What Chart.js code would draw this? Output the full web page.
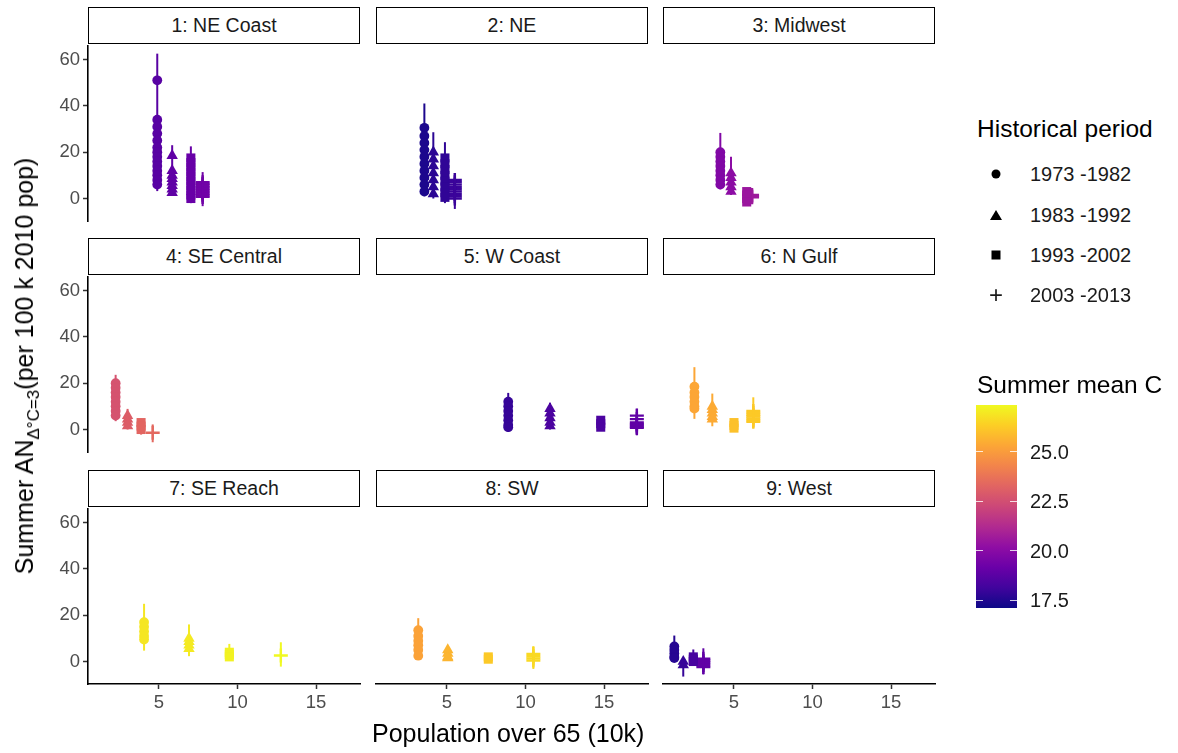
<!DOCTYPE html>
<html>
<head>
<meta charset="utf-8">
<script src="https://cdn.jsdelivr.net/npm/chart.js@4.4.1/dist/chart.umd.min.js"></script>
<style>
  body { margin: 0; background: #fff; font-family: "Liberation Sans", Arial, sans-serif; }
  #stage { position: relative; width: 1178px; height: 753px; overflow: hidden; }
  #stage canvas { position: absolute; }
  .strip { position: absolute; box-sizing: border-box; border: 1.5px solid #000; background: #fff;
           font-size: 19.5px; color: #1a1a1a; display: flex; align-items: center; justify-content: center; }
  .title { position: absolute; color: #000; white-space: nowrap; }
  .lg { position: absolute; white-space: nowrap; color: #1a1a1a; }
</style>
</head>
<body>
<div id="stage"></div>
<script>
// ---- data ----
const panelNames = ['1: NE Coast', '2: NE', '3: Midwest', '4: SE Central', '5: W Coast',
                    '6: N Gulf', '7: SE Reach', '8: SW', '9: West'];
const periods = ['1973 -1982', '1983 -1992', '1993 -2002', '2003 -2013'];
const xTicks = [5, 10, 15];
const yTicks = [0, 20, 40, 60];
const tempTicks = [17.5, 20.0, 22.5, 25.0];

// population over 65 (10k), one value per period
const popX = [
  [4.89, 5.84, 7.03, 7.78],
  [3.56, 4.13, 4.87, 5.5],
  [4.13, 4.81, 5.81, 6.15],
  [2.24, 3.0, 3.86, 4.6],
  [8.9, 11.56, 14.79, 17.09],
  [2.48, 3.62, 5.0, 6.23],
  [4.05, 6.91, 9.48, 12.76],
  [3.17, 5.05, 7.63, 10.5],
  [1.2, 1.77, 2.41, 3.05]
];

// summer mean temperature (C), one value per period
const tempC = [
  [18.7, 18.9, 19.1, 19.35],
  [17.4, 17.7, 17.8, 18.0],
  [19.8, 20.1, 20.5, 20.6],
  [22.65, 23.0, 23.3, 23.4],
  [17.9, 18.4, 18.4, 18.9],
  [25.3, 25.4, 26.0, 26.2],
  [26.9, 27.0, 27.2, 27.35],
  [25.2, 25.7, 26.2, 26.6],
  [17.6, 17.9, 18.3, 18.9]
];

// point estimates of summer AN per 100k (many cities stacked per period)
const anValues = [
  [[51, 34, 31, 28, 25, 22, 20, 18, 16, 14, 12, 10, 8, 6], [18.5, 12, 10, 8.5, 7, 5.5, 4, 2.5],
   [17.5, 15.5, 13.5, 11.5, 9.5, 7.5, 5.5, 3.5, 1.5, 0], [7, 6.3, 5.6, 4.9, 4.2, 3.5, 2.8, 2.1, 1.4, 0.7]],
  [[30.5, 27, 24, 21, 18, 15, 12, 9, 6, 3], [20, 17, 14, 11, 8, 5, 2],
   [17.5, 15, 12.5, 10, 7.5, 5, 2.5, 0.5], [8, 7, 6, 5, 4, 3, 2, 1, 0]],
  [[20, 18, 16, 14, 12, 10, 8, 6], [11, 9, 7, 5, 3], [3, 1.5, 0, -1.5], [1.5, 1, 0.5]],
  [[20, 18, 16, 14, 12, 10, 8, 6], [6, 4.5, 3, 1.5], [3, 1.5, 0], [-1.4]],
  [[12, 10, 8, 6, 4, 2, 1], [9, 7, 5, 3, 1.5], [4, 2.5, 1], [6, 4.5, 3, 2.4, 1.8, 1.2, 0.7]],
  [[18.5, 16, 14, 12, 10, 9], [10, 8.5, 7, 5.5, 4.5], [3, 1.8, 0.6], [8, 7.2, 6.4, 5.6, 4.8, 4, 3.3]],
  [[17, 15, 13, 11, 9.5], [10, 8.5, 7, 5.5], [4, 3, 2], [2.6]],
  [[13.5, 11, 9, 7, 5, 2.5], [5, 3.5, 2, 1.5], [2, 1], [3.3, 2.3, 1.3, 0.4]],
  [[6.5, 5, 3.5, 2, 1.5], [0, -1.5], [2, 1, 0], [1.2, 0.3, -0.5, -1.5, -2.4]]
];

// overall interval extent per period
const ciLow = [
  [3.2, 1.5, -2, -3.3], [1, 0, -2, -4.5], [4, 1.5, -3, -0.3], [3.6, 0, -2.2, -5.5], [-1, 0, -0.5, -2.5],
  [4.6, 1.4, -1, 0.7], [4.7, 2.3, 1, -2.2], [1, 0.5, 0, -3.2], [0, -6.5, -1, -5.6]
];
const ciHigh = [
  [62.5, 23, 22.5, 11.4], [41, 28.6, 24.3, 11], [28.3, 18, 4.5, 2.5], [23.6, 8.9, 4.6, 2.2], [15.8, 11.5, 5.5, 8.9],
  [26.9, 15.5, 4.5, 13.9], [24.9, 16, 7.6, 8.3], [18.7, 6, 3, 6.6], [11.2, 1, 5.2, 5.7]
];

// ---- colour scale (plasma) ----
const plasma = ['#0d0887', '#41049d', '#6a00a8', '#8f0da4', '#b12a90', '#cc4778',
                '#e16462', '#f2844b', '#fca636', '#fcce25', '#f0f921'];
const tempMin = 17.1, tempMax = 27.36;

function hexToRgb(h) {
  return [1, 3, 5].map(i => parseInt(h.slice(i, i + 2), 16));
}
function plasmaColor(temp) {
  let t = (temp - tempMin) / (tempMax - tempMin);
  t = Math.max(0, Math.min(1, t)) * (plasma.length - 1);
  const i = Math.min(Math.floor(t), plasma.length - 2);
  const f = t - i;
  const a = hexToRgb(plasma[i]), b = hexToRgb(plasma[i + 1]);
  const c = a.map((v, k) => Math.round(v + (b[k] - v) * f));
  return `rgb(${c[0]},${c[1]},${c[2]})`;
}

// ---- layout ----
const FONT = '"Liberation Sans", Arial, sans-serif';
const colLeft = [88, 376, 663];
const rowTop = [46, 277, 509];
const plotW = 272, plotH = 175;
const stripH = 37;
const M = 24; // spare margin round each canvas so Chart.js auto padding never eats the plot
const shapes = ['circle', 'triangle', 'rect', 'cross'];
const radii = [4.9, 6.6, 6.4, 7];

const stage = document.getElementById('stage');

function addEl(cls, css, html) {
  const d = document.createElement('div');
  d.className = cls;
  Object.assign(d.style, css);
  d.innerHTML = html;
  stage.appendChild(d);
  return d;
}

panelNames.forEach((name, p) => {
  const r = Math.floor(p / 3), c = p % 3;
  const axisW = c === 0 ? 60 : 0;
  const axisH = r === 2 ? 34 : 0;

  addEl('strip', {
    left: colLeft[c] + 'px', top: (rowTop[r] - stripH - 2) + 'px',
    width: plotW + 'px', height: stripH + 'px'
  }, name);

  const cv = document.createElement('canvas');
  cv.width = plotW + axisW + 2 * M;
  cv.height = plotH + axisH + 2 * M;
  cv.style.left = (colLeft[c] - axisW - M) + 'px';
  cv.style.top = (rowTop[r] - M) + 'px';
  stage.appendChild(cv);

  const datasets = [];
  periods.forEach((per, g) => {
    const x = popX[p][g];
    const col = plasmaColor(tempC[p][g]);
    datasets.push({
      type: 'scatter',
      label: per,
      data: anValues[p][g].map(y => ({ x, y })),
      pointStyle: shapes[g],
      pointRadius: radii[g],
      backgroundColor: col,
      borderColor: col,
      borderWidth: g === 3 ? 2.4 : 0,
      order: 1
    });
    datasets.push({
      type: 'line',
      label: per + ' interval',
      data: [{ x, y: ciLow[p][g] }, { x, y: ciHigh[p][g] }],
      borderColor: col,
      borderWidth: 2,
      pointRadius: 0,
      order: 2
    });
  });

  const axisCommon = {
    grid: { drawOnChartArea: false, drawTicks: true, tickLength: 5, tickColor: '#333', tickWidth: 1.5 },
    border: { display: true, color: '#000', width: 1.6 },
    ticks: { color: '#4d4d4d', font: { family: FONT, size: 18.5 }, padding: 3 }
  };

  new Chart(cv, {
    data: { datasets },
    options: {
      responsive: false,
      animation: false,
      devicePixelRatio: 1,
      events: [],
      layout: { padding: M, autoPadding: false },
      plugins: { legend: { display: false }, tooltip: { enabled: false } },
      scales: {
        x: {
          type: 'linear', min: 0.48, max: 17.8,
          display: r === 2,
          afterBuildTicks: s => { s.ticks = xTicks.map(v => ({ value: v })); },
          afterFit: s => { s.height = axisH; },
          ...axisCommon
        },
        y: {
          type: 'linear', min: -9.7, max: 65.8,
          display: c === 0,
          afterBuildTicks: s => { s.ticks = yTicks.map(v => ({ value: v })); },
          afterFit: s => { s.width = axisW; },
          ...axisCommon
        }
      }
    }
  });
});

// axis titles
addEl('title', { left: '372px', top: '719px', fontSize: '25px' }, 'Population over 65 (10k)');
addEl('title', {
  left: '27px', top: '366px', fontSize: '25px',
  transform: 'translate(-50%, -50%) rotate(-90deg)'
}, 'Summer AN<sub style="font-size:17px">Δ°C=3</sub>(per 100 k 2010 pop)');

// shape legend
addEl('lg', { left: '977px', top: '115px', fontSize: '24.5px', color: '#000' }, 'Historical period');
const legendY = [174, 215, 255, 295];
const symbolCss = [
  { width: '9px', height: '9px', borderRadius: '50%', background: '#000' },
  { width: 0, height: 0, borderLeft: '6px solid transparent', borderRight: '6px solid transparent', borderBottom: '10px solid #000' },
  { width: '9px', height: '9px', background: '#000' },
  null
];
periods.forEach((per, g) => {
  if (symbolCss[g]) {
    addEl('lg', Object.assign({ left: '996px', top: legendY[g] + 'px', transform: 'translate(-50%, -50%)' }, symbolCss[g]), '');
  } else {
    addEl('lg', { left: '996px', top: legendY[g] + 'px', transform: 'translate(-50%, -50%)', fontSize: '24px', fontWeight: 300, lineHeight: '24px' }, '+');
  }
  addEl('lg', { left: '1030px', top: (legendY[g] - 12) + 'px', fontSize: '20px', lineHeight: '24px' }, per);
});

// colour bar legend
addEl('lg', { left: '977px', top: '371px', fontSize: '24.5px', color: '#000' }, 'Summer mean C');
const barTop = 405, barBottom = 608, barLeft = 976, barW = 41;
const grad = plasma.map((h, i) => `${h} ${(i / (plasma.length - 1) * 100).toFixed(1)}%`).join(',');
addEl('lg', {
  left: barLeft + 'px', top: barTop + 'px', width: barW + 'px', height: (barBottom - barTop) + 'px',
  background: `linear-gradient(to top, ${grad})`
}, '');
tempTicks.forEach(v => {
  const y = barBottom - (v - tempMin) / (tempMax - tempMin) * (barBottom - barTop);
  addEl('lg', { left: barLeft + 'px', top: (y - 0.5) + 'px', width: '7px', height: '1px', background: 'rgba(255,255,255,0.8)' }, '');
  addEl('lg', { left: (barLeft + barW - 7) + 'px', top: (y - 0.5) + 'px', width: '7px', height: '1px', background: 'rgba(255,255,255,0.8)' }, '');
  addEl('lg', { left: '1030px', top: (y - 12) + 'px', fontSize: '20px', lineHeight: '24px' }, v.toFixed(1));
});
</script>
</body>
</html>
